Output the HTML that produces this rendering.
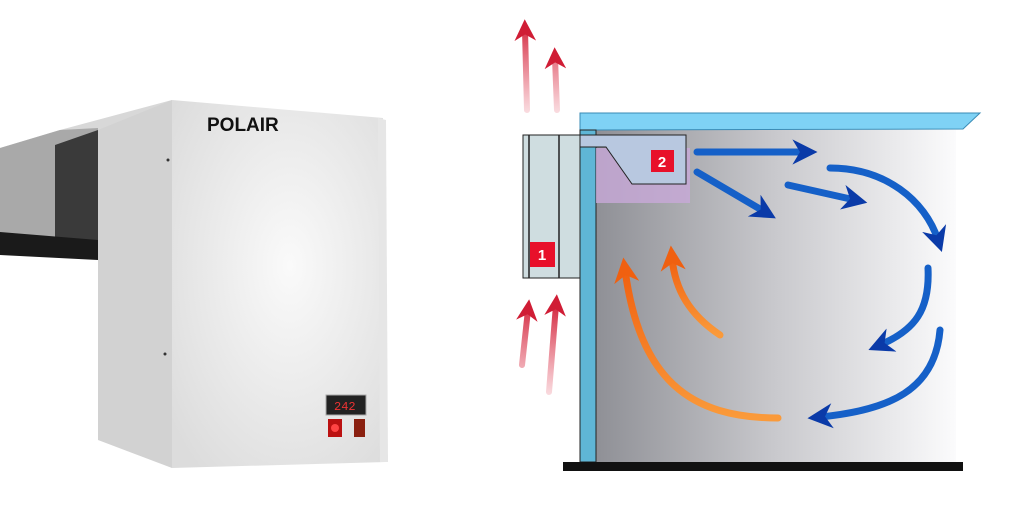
<!DOCTYPE html>
<html><head><style>
body{margin:0;width:1024px;height:529px;background:#fff;overflow:hidden}
svg{display:block}
</style></head><body>
<svg width="1024" height="529" viewBox="0 0 1024 529" xmlns="http://www.w3.org/2000/svg">
<defs>
<linearGradient id="room" x1="0" x2="1" y1="0" y2="0">
<stop offset="0" stop-color="#8f9096"/><stop offset="0.5" stop-color="#c9c9cd"/><stop offset="1" stop-color="#fbfbfc"/></linearGradient>
<radialGradient id="front" cx="0.55" cy="0.45" r="0.7">
<stop offset="0" stop-color="#fafafa"/><stop offset="1" stop-color="#dcdcdc"/></radialGradient>
<linearGradient id="redT" gradientUnits="userSpaceOnUse" x1="0" x2="0" y1="112" y2="20"><stop offset="0" stop-color="#e24a5e" stop-opacity="0.2"/><stop offset="1" stop-color="#d01d35"/></linearGradient>
<linearGradient id="redB" gradientUnits="userSpaceOnUse" x1="0" x2="0" y1="395" y2="300"><stop offset="0" stop-color="#e24a5e" stop-opacity="0.2"/><stop offset="1" stop-color="#d01d35"/></linearGradient>
<linearGradient id="org" x1="0" x2="0" y1="1" y2="0"><stop offset="0" stop-color="#fa9a3a"/><stop offset="1" stop-color="#f06010"/></linearGradient>
<marker id="ab" viewBox="0 0 10 10" refX="5" refY="5" markerWidth="3.6" markerHeight="3.6" orient="auto"><path d="M0,0 L10,5 L0,10 L3,5z" fill="#0a3aa8"/></marker>
<marker id="ao" viewBox="0 0 10 10" refX="5" refY="5" markerWidth="3.6" markerHeight="3.6" orient="auto"><path d="M0,0 L10,5 L0,10 L3,5z" fill="#f06010"/></marker>
<marker id="ar" viewBox="0 0 10 10" refX="5" refY="5" markerWidth="3.6" markerHeight="3.6" orient="auto"><path d="M0,0 L10,5 L0,10 L3,5z" fill="#d01d35"/></marker>
</defs>
<!-- left device -->
<polygon points="0,148 60,130 172,100 172,140 0,160" fill="#d8d8d8"/>
<polygon points="0,148 60,130 98,128 98,258 0,252" fill="#a9a9a9"/>
<polygon points="55,145 98,130 98,255 55,255" fill="#3a3a3a"/>
<polygon points="0,232 98,240 98,260 0,255" fill="#1a1a1a"/>
<polygon points="98,130 172,100 172,468 98,440" fill="#d2d2d2"/>
<polygon points="172,100 383,118 386,462 172,468" fill="url(#front)"/>
<polygon points="378,118 386,120 388,462 380,462" fill="#e6e6e6"/>
<text x="207" y="131" font-family="Liberation Sans,sans-serif" font-weight="bold" font-size="19" fill="#111">POLAIR</text>
<rect x="326" y="395" width="40" height="20" fill="#222" stroke="#aaa"/>
<text x="334" y="410" font-family="Liberation Mono,monospace" font-size="12" fill="#e33">242</text>
<rect x="328" y="419" width="14" height="18" fill="#b11"/><circle cx="335" cy="428" r="4" fill="#f44"/>
<rect x="354" y="419" width="11" height="18" fill="#8a2010"/>
<circle cx="168" cy="160" r="1.5" fill="#333"/><circle cx="165" cy="354" r="1.5" fill="#333"/>
<!-- right diagram -->
<rect x="596" y="130" width="360" height="332" fill="url(#room)"/>
<polygon points="580,113 980,113 963,129 596,130 596,462 580,462" fill="#7fd2f5" stroke="#3a8bb5" stroke-width="1"/>
<rect x="580" y="130" width="16" height="332" fill="#5fb6d6" stroke="#222" stroke-width="1"/>
<rect x="563" y="462" width="400" height="9" fill="#111"/>
<rect x="596" y="148" width="94" height="55" fill="#c8a9d8" opacity="0.8"/>
<rect x="523" y="135" width="57" height="143" fill="#cfdde0" stroke="#222"/>
<line x1="529" y1="135" x2="529" y2="278" stroke="#222" stroke-width="1.5"/>
<line x1="559" y1="135" x2="559" y2="278" stroke="#222" stroke-width="1.5"/>
<polygon points="580,135 686,135 686,184 632,184 606,147 580,147" fill="#b8c8e0" stroke="#222"/>
<rect x="651" y="150" width="23" height="22" fill="#e8102a"/>
<text x="662" y="167" text-anchor="middle" font-family="Liberation Sans,sans-serif" font-weight="bold" font-size="15" fill="#fff">2</text>
<rect x="530" y="242" width="25" height="25" fill="#e8102a"/>
<text x="542" y="260" text-anchor="middle" font-family="Liberation Sans,sans-serif" font-weight="bold" font-size="15" fill="#fff">1</text>
<!-- red arrows -->
<g stroke-width="6" fill="none" stroke-linecap="round">
<path d="M522,365 L528,310" stroke="url(#redB)" marker-end="url(#ar)"/>
<path d="M549,392 L556,305" stroke="url(#redB)" marker-end="url(#ar)"/>
<path d="M527,110 L525,30" stroke="url(#redT)" marker-end="url(#ar)"/>
<path d="M557,110 L555,58" stroke="url(#redT)" marker-end="url(#ar)"/>
</g>
<!-- blue arrows -->
<g stroke="#1560c8" stroke-width="7" fill="none" stroke-linecap="round">
<path d="M697,152 L805,152" marker-end="url(#ab)"/>
<path d="M697,172 L765,212" marker-end="url(#ab)"/>
<path d="M788,185 L855,200" marker-end="url(#ab)"/>
<path d="M830,168 C885,168 925,200 938,240" marker-end="url(#ab)"/>
<path d="M928,268 C930,310 915,330 880,345" marker-end="url(#ab)"/>
<path d="M940,330 C935,390 890,410 820,417" marker-end="url(#ab)"/>
</g>
<g stroke="url(#org)" stroke-width="7" fill="none" stroke-linecap="round">
<path d="M778,418 C690,418 640,380 625,270" marker-end="url(#ao)"/>
<path d="M720,335 C690,315 675,290 672,258" marker-end="url(#ao)"/>
</g>
</svg>
</body></html>
